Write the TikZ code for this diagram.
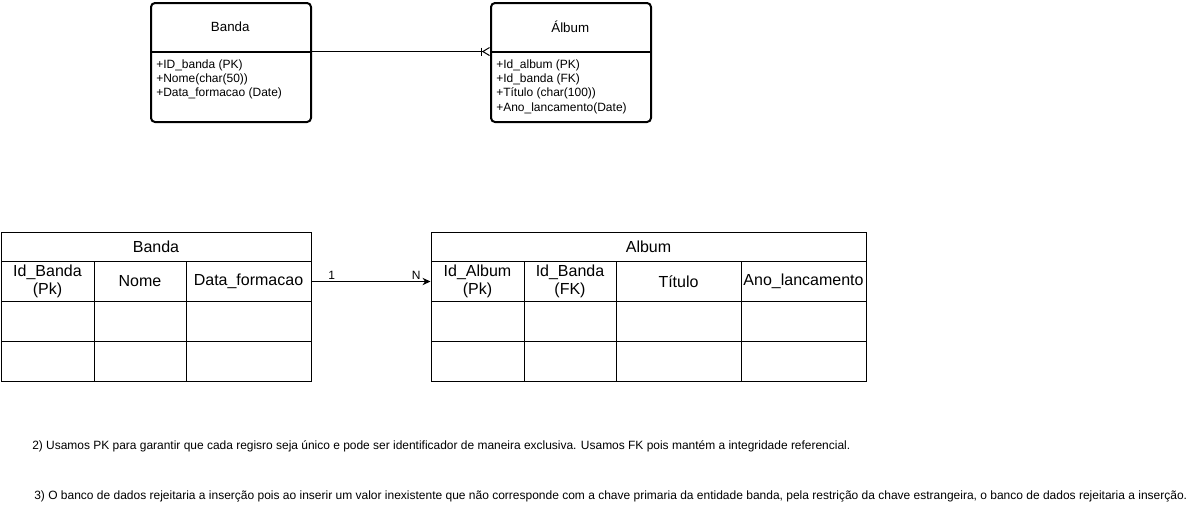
\documentclass[tikz,border=0pt]{standalone}
\usepackage{fontspec}
\setmainfont{Liberation Sans}
\usetikzlibrary{arrows.meta}

\begin{document}
\begin{tikzpicture}[x=0.75pt, y=-0.75pt]
\tikzset{
  ER OneMany/.tip={Bar[width=6pt] Straight Barb[reversed, width=6pt, length=5pt]},
  entity/.style={draw, line width=1.5pt, rounded corners=3pt, anchor=north west, inner sep=0pt,
    minimum width=120pt, minimum height=89.25pt},
  entity head/.style={anchor=north west, inner sep=0pt, minimum width=120pt,
    minimum height=36.75pt, font=\fontsize{10}{12}\selectfont},
  attr/.style={anchor=west, inner sep=0pt, font=\fontsize{9}{11}\selectfont},
  cell/.style 2 args={draw, line width=0.75pt, anchor=north west, inner sep=0pt, align=center,
    minimum width={#1*0.75pt}, minimum height={#2*0.75pt}, font=\fontsize{12}{13.5}\selectfont},
  card/.style={above, inner sep=1.5pt, font=\fontsize{9}{11}\selectfont},
  note/.style={anchor=west, inner sep=0pt, font=\fontsize{9}{11}\selectfont}
}
\useasboundingbox (0,0) rectangle (1201,511);

% modelo conceitual
\node[entity] (banda) at (150,2) {};
\node[entity head] (bandaHead) at (150,2) {Banda};
\draw[line width=1.5pt] (bandaHead.south west) -- (bandaHead.south east);
\foreach \txt [count=\i] in {{+ID\_banda (PK)}, {+Nome(char(50))}, {+Data\_formacao (Date)}}
  \node[attr] (bandaAttr\i) at (156, 50.5+14.4*\i) {\txt};

\node[entity] (album) at (490,2) {};
\node[entity head] (albumHead) at (490,2) {Álbum};
\draw[line width=1.5pt] (albumHead.south west) -- (albumHead.south east);
\foreach \txt [count=\i] in {{+Id\_album (PK)}, {+Id\_banda (FK)}, {+Título (char(100))}, {+Ano\_lancamento(Date)}}
  \node[attr] (albumAttr\i) at (496, 50.5+14.4*\i) {\txt};

\draw[line width=0.75pt, arrows=-ER OneMany] (bandaHead.south east) -- (albumHead.south west);

% tabelas
\node[cell={310}{29}] (bandaT) at (0.5,232) {Banda};
\node[cell={93}{40}] (bandaId) at (0.5,261) {Id\_Banda\\(Pk)};
\node[cell={92}{40}] (bandaNome) at (93.5,261) {Nome};
\node[cell={125}{40}] (bandaData) at (185.5,261) {Data\_formacao};
\foreach \y in {301,341} {
  \node[cell={93}{40}] (bandaA\y) at (0.5,\y) {};
  \node[cell={92}{40}] (bandaB\y) at (93.5,\y) {};
  \node[cell={125}{40}] (bandaC\y) at (185.5,\y) {};
}

\node[cell={435}{29}] (albumT) at (430.5,232) {Album};
\node[cell={93}{40}] (albumId) at (430.5,261) {Id\_Album\\(Pk)};
\node[cell={92}{40}] (albumBanda) at (523.5,261) {Id\_Banda\\(FK)};
\node[cell={125}{40}] (albumTitulo) at (615.5,261) {Título};
\node[cell={125}{40}] (albumAno) at (740.5,261) {Ano\_lancamento};
\foreach \y in {301,341} {
  \node[cell={93}{40}] (albumA\y) at (430.5,\y) {};
  \node[cell={92}{40}] (albumB\y) at (523.5,\y) {};
  \node[cell={125}{40}] (albumC\y) at (615.5,\y) {};
  \node[cell={125}{40}] (albumD\y) at (740.5,\y) {};
}

\draw[line width=0.75pt, -{Stealth[length=6pt, width=5.5pt]}] (bandaData.east)
  -- node[card, pos=0.17] (cardOne) {1} node[card, pos=0.88] (cardN) {N} (albumId.west);

% respostas
\node[note] (note2) at (32,446) {\resizebox{613.5pt}{\height}{2) Usamos PK para garantir que cada regisro seja único e pode ser identificador de maneira exclusiva. Usamos FK pois mantém a integridade referencial.}};
\node[note] (note3) at (34,496) {\resizebox{864.75pt}{\height}{3) O banco de dados rejeitaria a inserção pois ao inserir um valor inexistente que não corresponde com a chave primaria da entidade banda, pela restrição da chave estrangeira, o banco de dados rejeitaria a inserção.}};
\end{tikzpicture}
\end{document}
